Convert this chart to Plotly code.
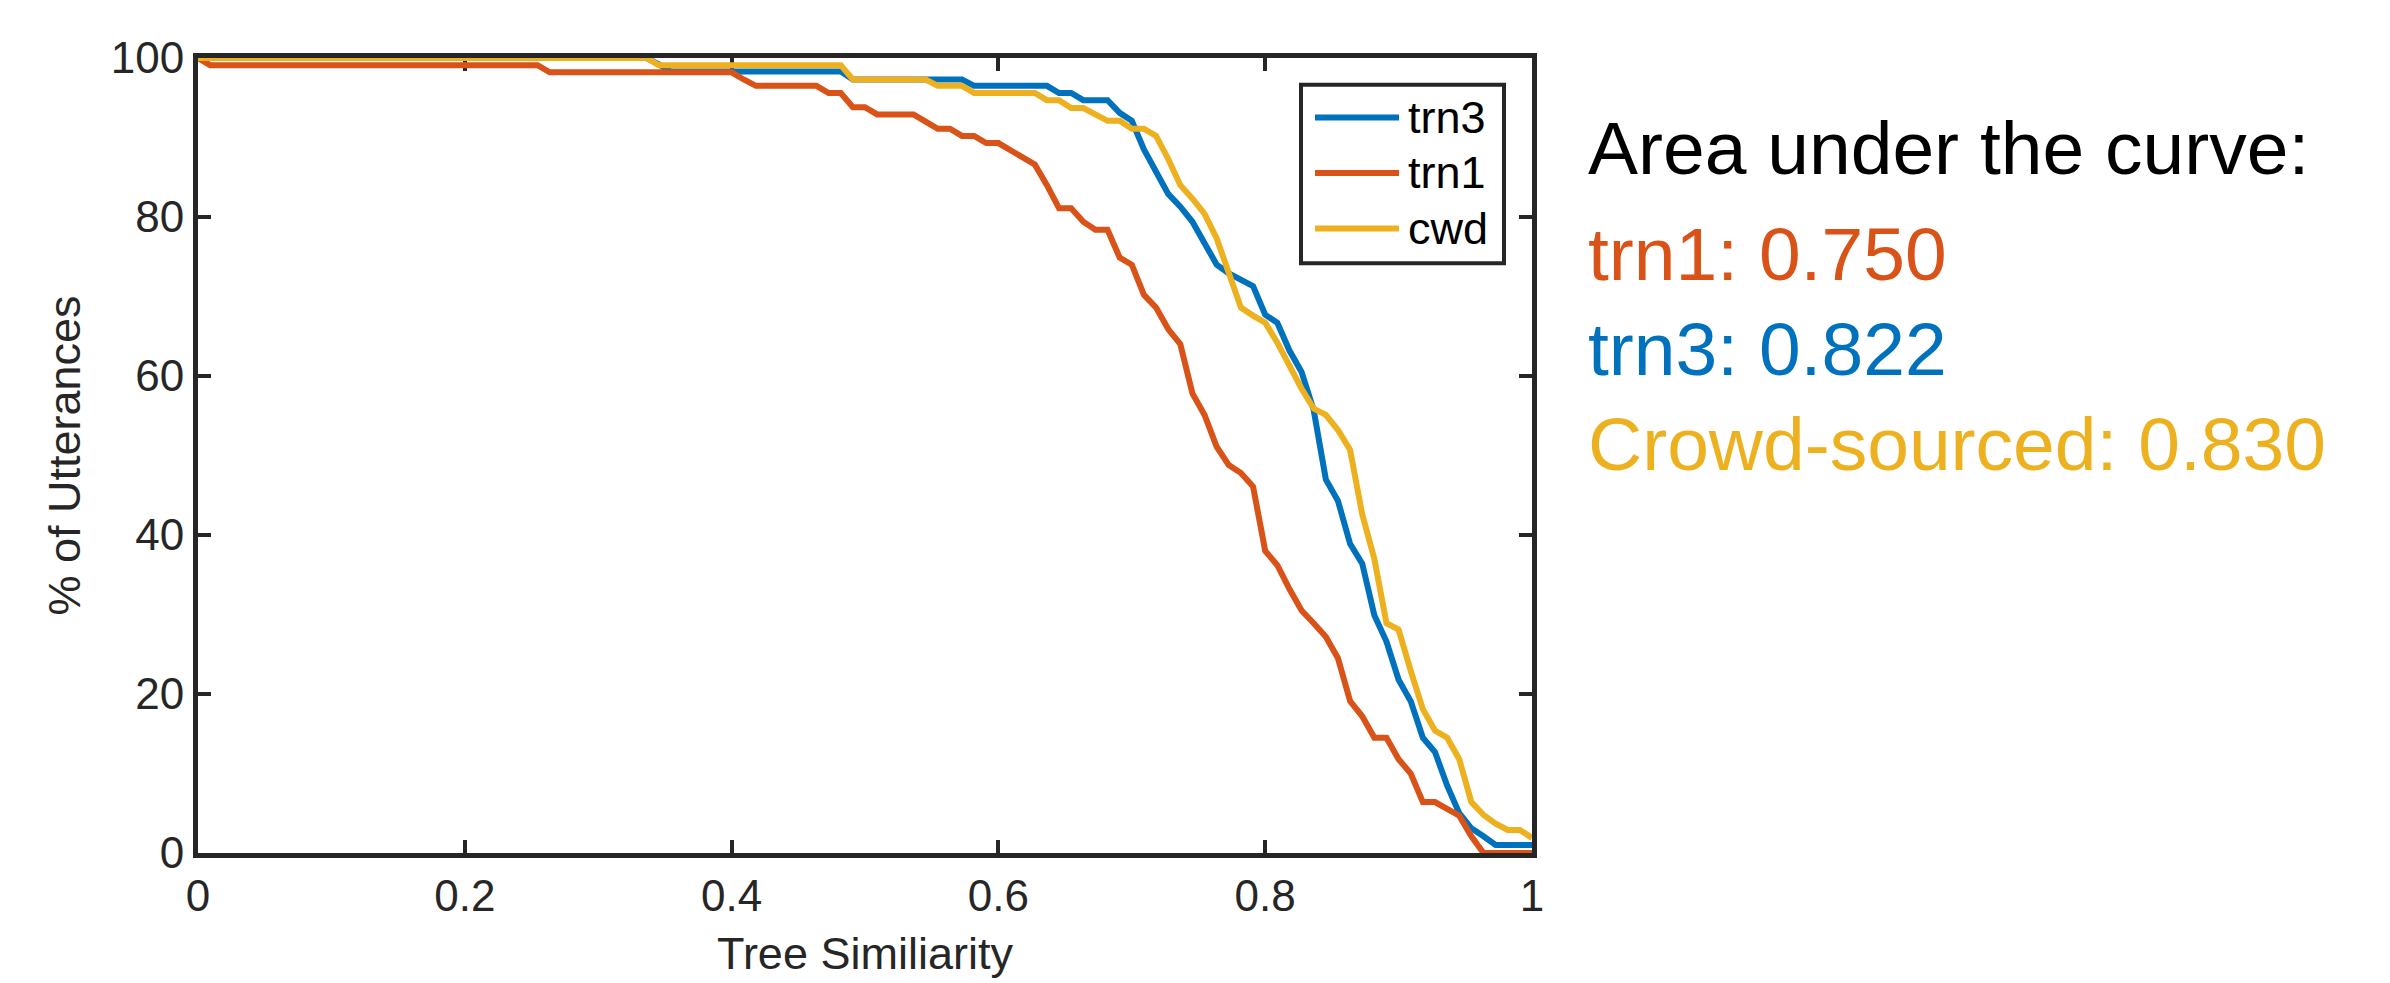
import plotly.graph_objects as go

# ---------------- data ----------------
# curves are sampled on 111 evenly spaced similarity values from 0 to 1
SIMILARITY = [k / 110 for k in range(111)]

TRN3 = [
    100, 100, 100, 100, 100, 100, 100, 100, 100, 100,
    100, 100, 100, 100, 100, 100, 100, 100, 100, 100,
    100, 100, 100, 100, 100, 100, 100, 100, 100, 100,
    100, 100, 100, 100, 100, 100, 100, 100, 99.2, 98.3,
    98.3, 98.3, 98.3, 98.3, 98.3, 98.3, 98.3, 98.3, 98.3, 98.3,
    98.3, 98.3, 98.3, 98.3, 97.3, 97.3, 97.3, 97.3, 97.3, 97.3,
    97.3, 97.3, 97.3, 97.3, 96.5, 96.5, 96.5, 96.5, 96.5, 96.5,
    96.5, 95.6, 95.6, 94.7, 94.7, 94.7, 93.1, 92.1, 88.5, 85.8,
    82.9, 81.3, 79.4, 76.7, 74.0, 72.9, 72.1, 71.3, 67.7, 66.7,
    63.2, 60.5, 55.7, 47.0, 44.3, 38.9, 36.4, 29.9, 26.6, 21.8,
    19.1, 14.5, 12.7, 8.5, 5.0, 3.1, 2.1, 1.0, 1.0, 1.0,
    1.0,
]

TRN1 = [
    100, 99.1, 99.1, 99.1, 99.1, 99.1, 99.1, 99.1, 99.1, 99.1,
    99.1, 99.1, 99.1, 99.1, 99.1, 99.1, 99.1, 99.1, 99.1, 99.1,
    99.1, 99.1, 99.1, 99.1, 99.1, 99.1, 99.1, 99.1, 99.1, 98.2,
    98.2, 98.2, 98.2, 98.2, 98.2, 98.2, 98.2, 98.2, 98.2, 98.2,
    98.2, 98.2, 98.2, 98.2, 98.2, 97.3, 96.5, 96.5, 96.5, 96.5,
    96.5, 96.5, 95.6, 95.6, 93.8, 93.8, 92.9, 92.9, 92.9, 92.9,
    92.0, 91.1, 91.1, 90.2, 90.2, 89.3, 89.3, 88.4, 87.5, 86.6,
    84.0, 81.1, 81.1, 79.4, 78.4, 78.4, 74.9, 74.0, 70.2, 68.6,
    65.9, 64.0, 57.8, 55.1, 51.1, 48.8, 47.8, 46.1, 38.0, 36.2,
    33.2, 30.5, 28.9, 27.2, 24.5, 19.1, 17.2, 14.5, 14.5, 11.8,
    10.0, 6.4, 6.4, 5.6, 4.7, 2.1, 0, 0, 0, 0,
    0,
]

CWD = [
    100, 100, 100, 100, 100, 100, 100, 100, 100, 100,
    100, 100, 100, 100, 100, 100, 100, 100, 100, 100,
    100, 100, 100, 100, 100, 100, 100, 100, 100, 100,
    100, 100, 100, 100, 100, 100, 100, 100, 99.1, 99.1,
    99.1, 99.1, 99.1, 99.1, 99.1, 99.1, 99.1, 99.1, 99.1, 99.1,
    99.1, 99.1, 99.1, 99.1, 97.3, 97.3, 97.3, 97.3, 97.3, 97.3,
    97.3, 96.5, 96.5, 96.5, 95.6, 95.6, 95.6, 95.6, 95.6, 95.6,
    94.7, 94.7, 93.7, 93.7, 92.9, 92.1, 92.1, 91.1, 91.1, 90.2,
    87.3, 84.0, 82.3, 80.4, 77.3, 73.0, 68.6, 67.6, 66.7, 64.2,
    61.3, 58.4, 55.9, 55.1, 53.2, 50.7, 42.6, 37.0, 28.9, 28.1,
    22.9, 18.1, 15.4, 14.5, 11.8, 6.4, 4.8, 3.7, 2.9, 2.9,
    1.9,
]

SERIES_NAMES = ["trn3", "trn1", "cwd"]
AUC_LABELS = ["trn1: 0.750", "trn3: 0.822", "Crowd-sourced: 0.830"]
X_TICKS = [0, 0.2, 0.4, 0.6, 0.8, 1]
X_TICK_TEXT = ["0", "0.2", "0.4", "0.6", "0.8", "1"]
Y_TICKS = [0, 20, 40, 60, 80, 100]
Y_TICK_TEXT = ["0", "20", "40", "60", "80", "100"]

# ---------------- style ----------------
BLUE = "#0072BD"
ORANGE = "#D95319"
YELLOW = "#EDB120"
AXIS = "#262626"
FONT = "Liberation Sans, Arial, Helvetica, sans-serif"

W, H = 2390, 983
L, R, T, B = 198, 858, 58, 123

fig = go.Figure()
for name, vals, col in zip(SERIES_NAMES, [TRN3, TRN1, CWD], [BLUE, ORANGE, YELLOW]):
    fig.add_trace(go.Scatter(
        x=SIMILARITY, y=vals, mode="lines", name=name,
        line=dict(color=col, width=6), cliponaxis=False, showlegend=False,
    ))

axis_common = dict(
    ticks="inside", ticklen=13, tickwidth=4, tickcolor=AXIS,
    showline=True, linewidth=5, linecolor=AXIS, mirror="allticks",
    showgrid=False, zeroline=False, layer="below traces",
    tickfont=dict(family=FONT, size=44, color=AXIS),
)
fig.update_xaxes(range=[0, 1], tickvals=X_TICKS, ticktext=X_TICK_TEXT,
                 title=dict(text="Tree Similiarity", font=dict(family=FONT, size=45, color=AXIS), standoff=20),
                 **axis_common)
fig.update_yaxes(range=[0, 100], tickvals=Y_TICKS, ticktext=Y_TICK_TEXT,
                 title=dict(text="% of Utterances", font=dict(family=FONT, size=45, color=AXIS), standoff=18),
                 **axis_common)

pw, ph = W - L - R, H - T - B
def px(X):
    return (X - L) / pw
def py(Y):
    return (H - B - Y) / ph

# custom legend box (MATLAB style, long line samples)
shapes = [dict(type="rect", xref="paper", yref="paper",
               x0=px(1301), x1=px(1504), y0=py(265), y1=py(85),
               line=dict(color=AXIS, width=4), fillcolor="white", layer="above")]
annotations = []
for i, (name, col) in enumerate(zip(SERIES_NAMES, [BLUE, ORANGE, YELLOW])):
    yy = py(118 + 56 * i)
    shapes.append(dict(type="line", xref="paper", yref="paper",
                       x0=px(1315), x1=px(1399), y0=yy, y1=yy,
                       line=dict(color=col, width=6), layer="above"))
    annotations.append(dict(text=name, xref="paper", yref="paper", x=px(1406), y=yy,
                            xanchor="left", yanchor="middle", showarrow=False,
                            font=dict(family=FONT, size=45, color="black")))

# area-under-curve text block
annotations.append(dict(text="Area under the curve:", xref="paper", yref="paper",
                        x=px(1586), y=py(149), xanchor="left", yanchor="middle", showarrow=False,
                        font=dict(family=FONT, size=75, color="black")))
for lab, col, yc in zip(AUC_LABELS, [ORANGE, BLUE, YELLOW], [256, 352, 447]):
    annotations.append(dict(text=lab, xref="paper", yref="paper",
                            x=px(1586), y=py(yc), xanchor="left", yanchor="middle", showarrow=False,
                            font=dict(family=FONT, size=75, color=col)))

fig.update_layout(
    width=W, height=H, autosize=False,
    margin=dict(l=L, r=R, t=T, b=B, pad=0),
    paper_bgcolor="white", plot_bgcolor="white",
    font=dict(family=FONT, color=AXIS),
    shapes=shapes, annotations=annotations, showlegend=False,
)

fig.write_html(
    "out.html",
    config={"displayModeBar": False},
    post_script="document.body.style.margin='0px';document.body.style.overflow='hidden';",
)
